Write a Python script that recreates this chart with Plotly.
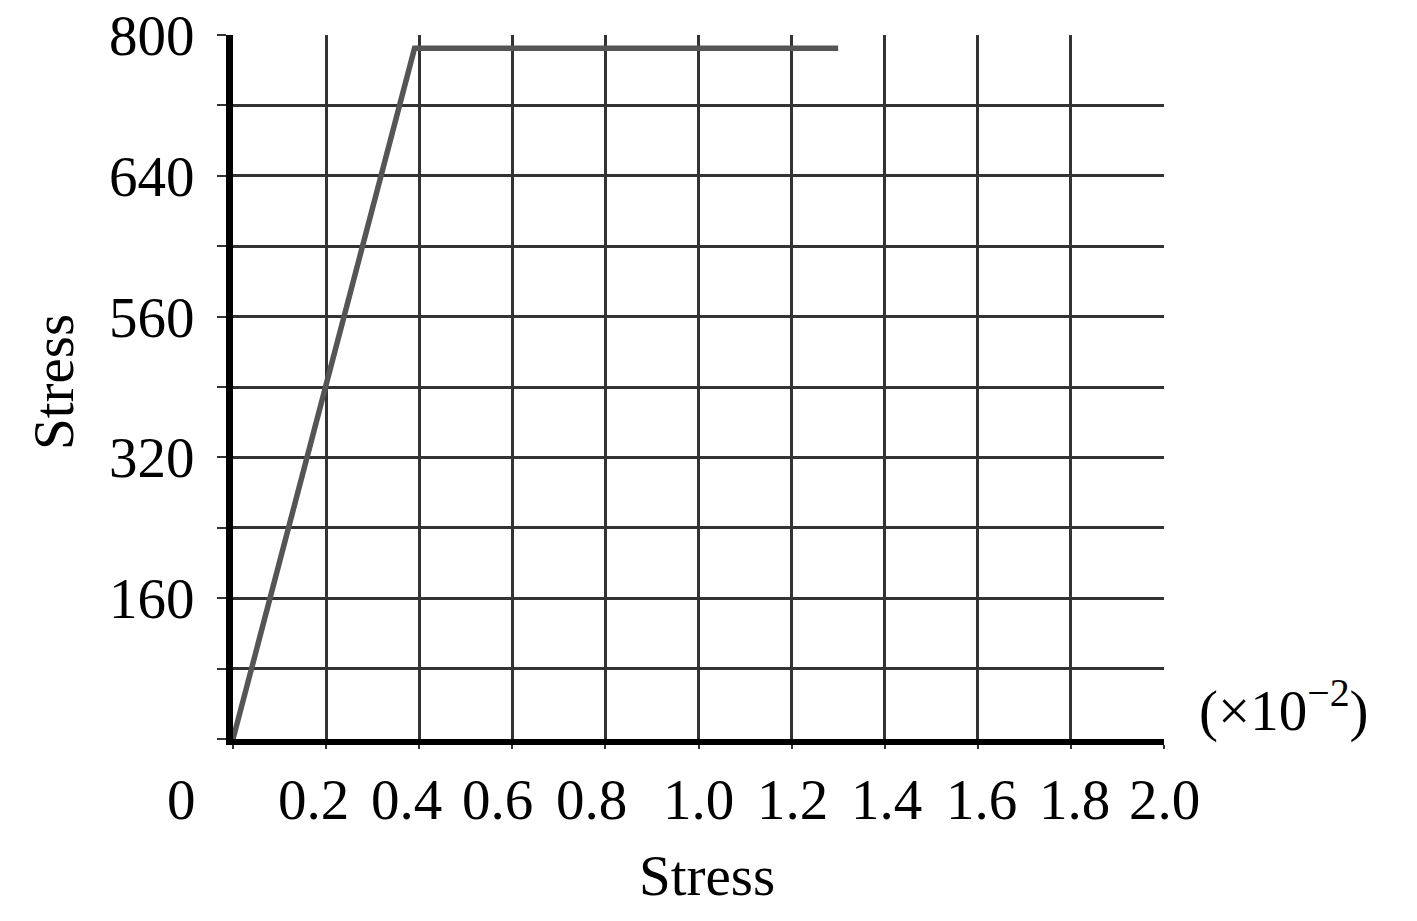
import plotly.graph_objects as go

# curve (strain in 1e-2, stress)
strain = [0.0, 0.39, 1.3]
stress = [0.0, 785.0, 785.0]

# grid / ticks
X_MAX = 2.0
Y_MAX = 800
x_grid = [0.0, 0.2, 0.4, 0.6, 0.8, 1.0, 1.2, 1.4, 1.6, 1.8, 2.0]
y_grid = [0, 80, 160, 240, 320, 400, 480, 560, 640, 720, 800]
y_text = ["", "", "160", "", "320", "", "560", "", "640", "", "800"]

# x tick labels sit a bit off the grid lines in the original
x_label_pos = [-0.11, 0.172, 0.372, 0.569, 0.771, 1.001, 1.203, 1.403, 1.607, 1.807, 2.0]
x_label_txt = ["0", "0.2", "0.4", "0.6", "0.8", "1.0", "1.2", "1.4", "1.6", "1.8", "2.0"]

FONT = "Liberation Serif, Times New Roman, serif"
FS = 57

fig = go.Figure()
fig.add_trace(go.Scatter(x=strain, y=stress, mode="lines",
                         line=dict(color="#555555", width=5.5), showlegend=False))

annots = []
for pos, txt in zip(x_label_pos, x_label_txt):
    # paper coords so the "0" left of the axis isn't dropped
    annots.append(dict(text=txt, x=pos / X_MAX, xref="paper", y=0, yref="paper",
                       xanchor="center", yanchor="middle", yshift=-60,
                       showarrow=False, font=dict(size=FS)))
# axis titles
annots.append(dict(text="Stress", x=0.509, xref="paper", y=0, yref="paper",
                   xanchor="center", yanchor="middle", yshift=-136,
                   showarrow=False, font=dict(size=FS)))
annots.append(dict(text="Stress", x=0, xref="paper", y=0.507, yref="paper",
                   xanchor="center", yanchor="middle", xshift=-180, textangle=-90,
                   showarrow=False, font=dict(size=FS)))
annots.append(dict(text="(×10<sup>−2</sup>)", x=1.0, y=0, xref="paper", yref="paper",
                   xanchor="left", yanchor="bottom", xshift=33, yshift=-6,
                   showarrow=False, font=dict(size=FS)))

fig.update_layout(
    width=1417, height=921,
    margin=dict(l=225, r=261, t=27, b=190),
    plot_bgcolor="white", paper_bgcolor="white",
    font=dict(family=FONT, size=FS, color="black"),
    xaxis=dict(range=[0, X_MAX], tickvals=x_grid, showticklabels=False,
               showgrid=True, gridcolor="#333333", gridwidth=2.5,
               showline=True, linecolor="black", linewidth=6,
               ticks="outside", ticklen=4, tickcolor="#333333", tickwidth=2,
               zeroline=False, automargin=False),
    yaxis=dict(range=[0, Y_MAX], tickvals=y_grid, ticktext=y_text,
               showgrid=True, gridcolor="#333333", gridwidth=2.5,
               showline=True, linecolor="black", linewidth=7,
               ticks="outside", ticklen=9, tickcolor="#333333", tickwidth=2,
               zeroline=False, tickfont=dict(size=FS), ticklabelstandoff=11,
               ticklabeloverflow="allow", automargin=False),
    annotations=annots,
)

fig.write_html("out.html")
